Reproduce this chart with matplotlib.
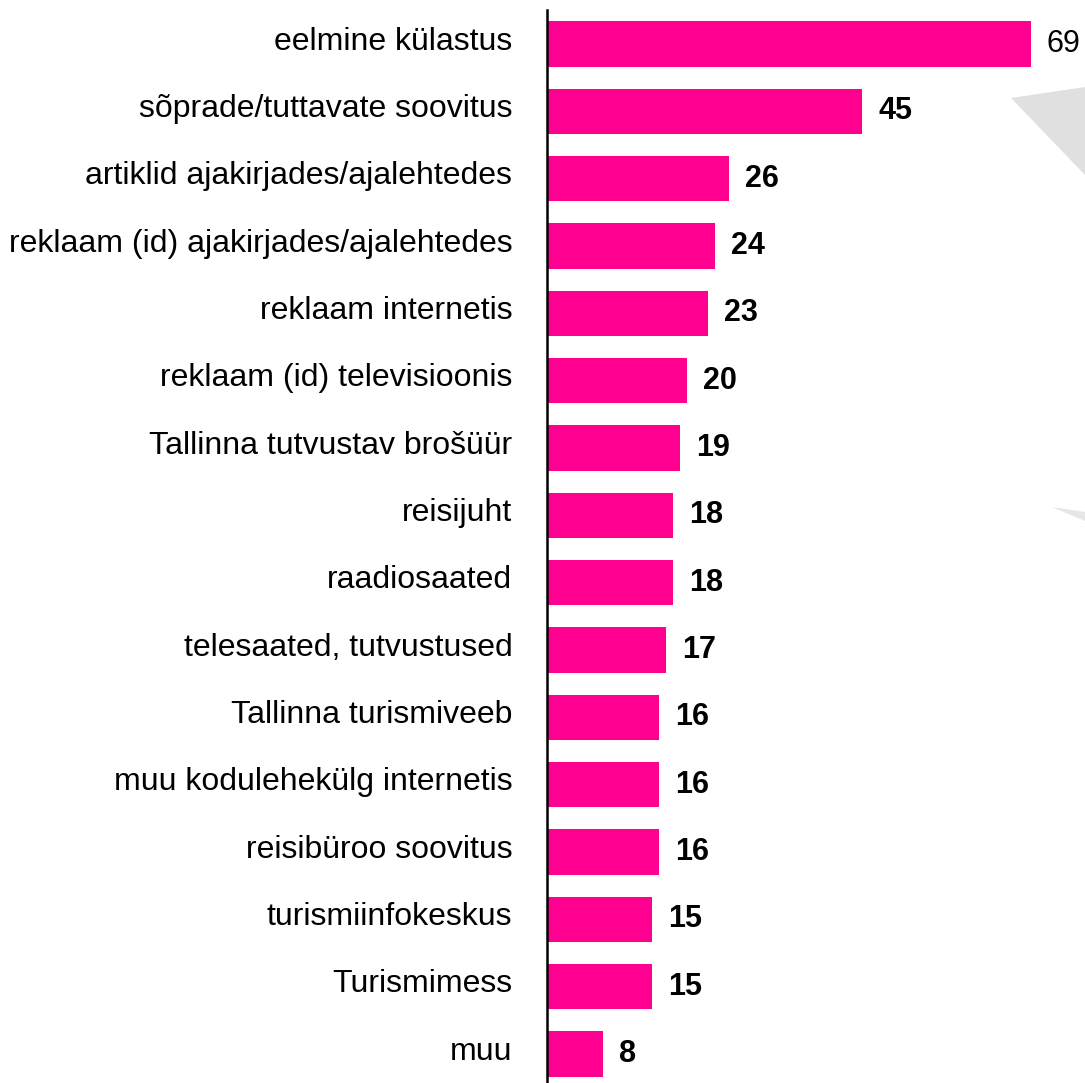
import matplotlib
matplotlib.use("Agg")
import matplotlib.pyplot as plt
from matplotlib.patches import Polygon
from matplotlib.transforms import ScaledTranslation

categories = [
    "eelmine külastus",
    "sõprade/tuttavate soovitus",
    "artiklid ajakirjades/ajalehtedes",
    "reklaam (id) ajakirjades/ajalehtedes",
    "reklaam internetis",
    "reklaam (id) televisioonis",
    "Tallinna tutvustav brošüür",
    "reisijuht",
    "raadiosaated",
    "telesaated, tutvustused",
    "Tallinna turismiveeb",
    "muu kodulehekülg internetis",
    "reisibüroo soovitus",
    "turismiinfokeskus",
    "Turismimess",
    "muu",
]
values = [69, 45, 26, 24, 23, 20, 19, 18, 18, 17, 16, 16, 16, 15, 15, 8]

plt.rcParams['font.family'] = ['Liberation Sans', 'DejaVu Sans']

W, H = 1085, 1083
fig = plt.figure(figsize=(W / 100, H / 100), dpi=100)
fig.patch.set_facecolor("white")

# decorative grey shapes in background
fig.patches.append(Polygon([(1011 / W, 1 - 98 / H), (1085 / W, 1 - 87 / H), (1085 / W, 1 - 175 / H)],
                           closed=True, transform=fig.transFigure, facecolor="#e0e0e0",
                           edgecolor="none", zorder=0))
fig.patches.append(Polygon([(1052 / W, 1 - 507 / H), (1085 / W, 1 - 512 / H), (1085 / W, 1 - 521 / H)],
                           closed=True, transform=fig.transFigure, facecolor="#e6e6e6",
                           edgecolor="none", zorder=0))

ax_left = 547 / W
ax_top = 10 / H
ax = fig.add_axes([ax_left, 0, 1 - ax_left, 1 - ax_top])
ax.patch.set_alpha(0)

y = list(range(len(categories)))
ax.barh(y, values, height=0.67, color="#ff0090", zorder=2)

ax.set_xlim(0, (W - 547) / 7.01)
ax.set_ylim(15.43, -0.505)

ax.set_yticks(y)
ax.set_yticklabels(categories, fontsize=23, color="black")
ax.tick_params(axis="y", length=0, pad=25)
ax.set_xticks([])
for lbl in ax.get_yticklabels():
    lbl.set_transform(lbl.get_transform() + ScaledTranslation(0, 6 / 100, fig.dpi_scale_trans))

for s in ["top", "right", "bottom"]:
    ax.spines[s].set_visible(False)
ax.spines["left"].set_linewidth(1.8)
ax.spines["left"].set_color("black")

for i, v in enumerate(values):
    ax.text(v + 2.3, i, str(v), va="center", ha="left", fontsize=22,
            fontweight="normal" if i == 0 else "bold", color="black", zorder=3)

fig.savefig("out.png", dpi=100, facecolor="white")
